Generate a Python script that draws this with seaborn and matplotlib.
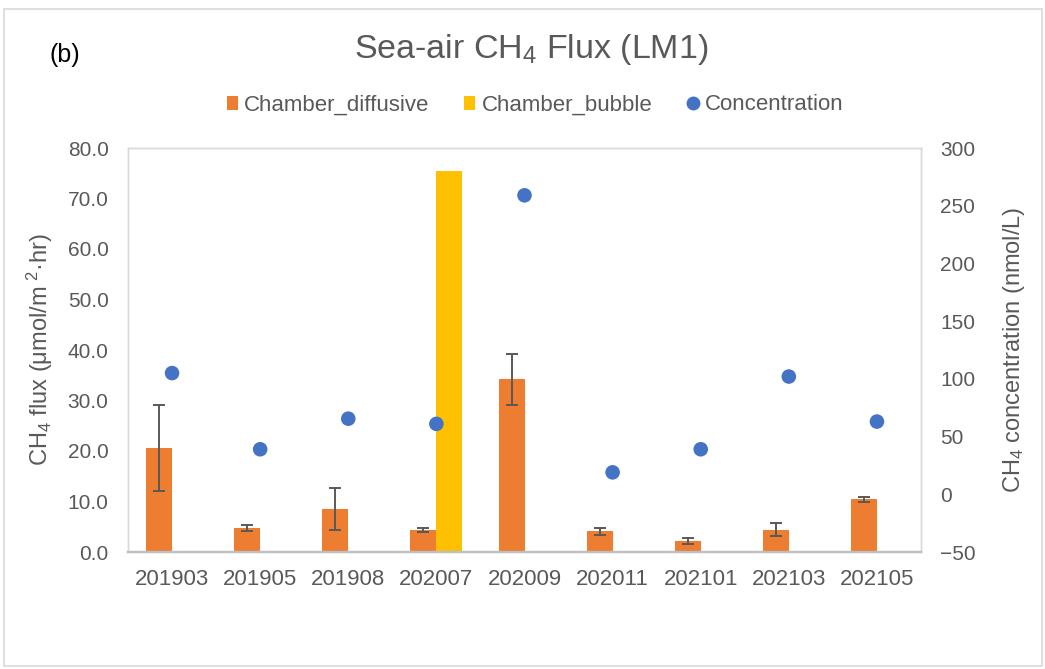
import numpy as np
import pandas as pd
import matplotlib
matplotlib.use("Agg")
import matplotlib.pyplot as plt
import seaborn as sns
from matplotlib.patches import Patch, Rectangle
from matplotlib.lines import Line2D
from matplotlib.ticker import FormatStrFormatter, MultipleLocator

categories = ["201903", "201905", "201908", "202007", "202009",
              "202011", "202101", "202103", "202105"]
diffusive = [20.6, 4.8, 8.5, 4.4, 34.2, 4.1, 2.2, 4.4, 10.4]
diffusive_err = [8.6, 0.6, 4.2, 0.4, 5.1, 0.7, 0.65, 1.25, 0.55]
bubble = [np.nan, np.nan, np.nan, 75.4, np.nan, np.nan, np.nan, np.nan, np.nan]
concentration = [105, 39, 65.5, 61, 259, 19, 39, 102, 63]

sns.set_style("white")
plt.rcParams["font.family"] = ["Liberation Sans", "DejaVu Sans"]
plt.rcParams["mathtext.default"] = "regular"

C_DIFF = "#ED7D31"
C_BUB = "#FFC000"
C_CONC = "#4472C4"
TXT = "#595959"

df = pd.DataFrame({
    "Date": categories * 2,
    "Series": ["Chamber_diffusive"] * len(categories) + ["Chamber_bubble"] * len(categories),
    "Flux": diffusive + bubble,
})
dconc = pd.DataFrame({"pos": np.arange(len(categories)), "Concentration": concentration})

fig = plt.figure(figsize=(10.45, 6.69), dpi=100)
ax = fig.add_axes([128/1045, 1-552/669, (921-128)/1045, (552-148)/669])

sns.barplot(data=df, x="Date", y="Flux", hue="Series", order=categories,
            hue_order=["Chamber_diffusive", "Chamber_bubble"],
            palette=[C_DIFF, C_BUB], width=0.59, dodge=True, gap=0,
            errorbar=None, linewidth=0, legend=False, ax=ax, saturation=1)

# error bars on the diffusive bars
n = len(categories)
diff_patches = ax.patches[:n]
xs = [p.get_x() + p.get_width() / 2 for p in diff_patches]
ax.errorbar(xs, diffusive, yerr=diffusive_err, fmt="none", ecolor="#595959",
            elinewidth=1.4, capsize=4, capthick=1.4, zorder=5)

ax.set_ylim(0, 80)
ax.yaxis.set_major_locator(MultipleLocator(10))
ax.yaxis.set_major_formatter(FormatStrFormatter("%.1f"))
ax.set_xlim(-0.5, n - 0.5)
ax.set_xlabel("")
ax.set_ylabel("CH$_4$ flux (μmol/m$^{\\ 2}$·hr)", fontsize=17, color=TXT, labelpad=9)
ax.tick_params(axis="y", labelsize=15, colors=TXT, length=0, pad=14)
ax.tick_params(axis="x", labelsize=16, colors=TXT, length=0, pad=12)

ax2 = ax.twinx()
sns.scatterplot(data=dconc, x="pos", y="Concentration", color=C_CONC, s=110,
                edgecolor="none", ax=ax2, zorder=6, legend=False)
ax2.set_ylim(-50, 300)
ax2.yaxis.set_major_locator(MultipleLocator(50))
ax2.set_ylabel("CH$_4$ concentration (nmol/L)", fontsize=17, color=TXT, labelpad=18)
ax2.tick_params(axis="y", labelsize=15, colors=TXT, length=0, pad=14)
ax2.set_xlim(-0.5, n - 0.5)
ax2.set_xlabel("")

for a in (ax, ax2):
    for s in a.spines.values():
        s.set_color("#D9D9D9")
        s.set_linewidth(1.0)
    a.spines["bottom"].set_color("#BFBFBF")
    a.spines["bottom"].set_linewidth(1.6)

ax.set_xticks(range(n))
ax.set_xticklabels(categories)

fig.text(531.5/1045, 1-58/669, "Sea-air CH$_4$ Flux (LM1)", ha="center", va="baseline",
         fontsize=24.5, color=TXT)
fig.text(65/1045, 1-62/669, "(b)", ha="center", va="baseline", fontsize=18, color="black")

handles = [Patch(facecolor=C_DIFF, edgecolor="none"),
           Patch(facecolor=C_BUB, edgecolor="none"),
           Line2D([], [], marker="o", linestyle="none", markersize=10,
                  markerfacecolor=C_CONC, markeredgecolor="none")]
leg = fig.legend(handles, ["Chamber_diffusive", "Chamber_bubble", "Concentration"],
                 loc="center", bbox_to_anchor=(535/1045, 1-105/669), ncol=3,
                 frameon=False, fontsize=16, handlelength=0.5, handleheight=0.6,
                 handletextpad=0.3, columnspacing=1.55)
for t in leg.get_texts():
    t.set_color(TXT)

fig.patches.append(Rectangle((4/1045, 3/669), 1038/1045, 657/669,
                             transform=fig.transFigure, fill=False,
                             edgecolor="#D9D9D9", linewidth=1.2))

fig.savefig("out.png", dpi=100)
